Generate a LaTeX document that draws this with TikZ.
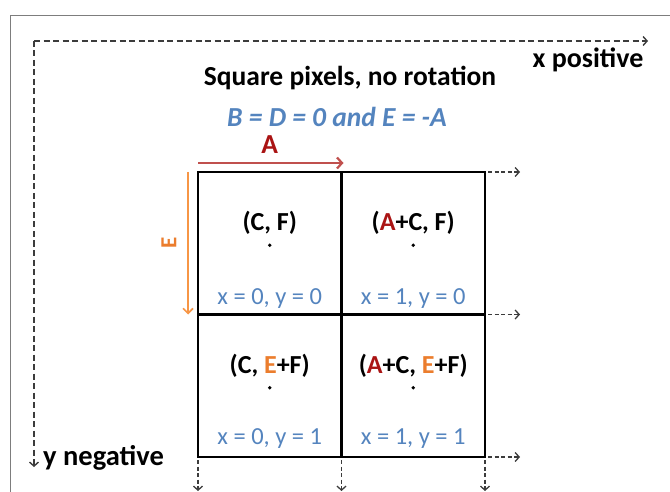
\documentclass[tikz,border=0pt]{standalone}
\usepackage{fontspec}
\setmainfont{Carlito}
\usetikzlibrary{arrows.meta, positioning, calc}
\definecolor{framegray}{RGB}{125,125,125}
\definecolor{axisgray}{RGB}{60,60,60}
\definecolor{idxblue}{RGB}{84,132,190}
\definecolor{stepred}{RGB}{192,80,77}
\definecolor{labred}{RGB}{170,20,20}
\definecolor{steporange}{RGB}{247,150,70}
\definecolor{laborange}{RGB}{235,125,45}
\tikzset{
    pixel/.style={draw, line width=2.6pt, minimum width=143.5pt, minimum height=142.5pt, inner sep=0pt, outer sep=0pt},
    pointlab/.style={font=\fontsize{26}{28}\selectfont\bfseries, inner sep=0pt},
    idxlab/.style={font=\fontsize{24.5}{26}\selectfont, text=idxblue, inner sep=0pt},
    centre/.style={circle, fill=black, inner sep=0pt, minimum size=3.8pt},
    titel/.style={font=\fontsize{27.5}{30}\selectfont\bfseries, inner sep=0pt},
    axis/.style={line width=1.4pt, dash pattern=on 6pt off 3.5pt, draw=axisgray, -{Straight Barb[length=4pt, width=9pt]}},
    verder/.style={line width=1.3pt, dash pattern=on 4pt off 2.5pt, draw=axisgray, -{Straight Barb[length=4pt, width=9pt]}},
    stapA/.style={line width=2.2pt, draw=stepred, -{Straight Barb[length=5pt, width=11pt]}},
    stapE/.style={line width=1.6pt, draw=steporange, -{Straight Barb[length=5pt, width=10pt]}}
}
\begin{document}
\begin{tikzpicture}[x=1pt, y=1pt]
    \useasboundingbox (0,0) rectangle (670,-492);

    % kader
    \draw[framegray, line width=1.5pt] (10.5,-492) -- (10.5,-15.5) -- (671,-15.5);

    % assen
    \coordinate (origin) at (34,-41);
    \coordinate (xeind) at (648,-41);
    \coordinate (yeind) at (34,-467);
    \draw[axis] (origin) -- (xeind);
    \draw[axis] (origin) -- (yeind);
    \node[titel, font=\fontsize{28}{30}\selectfont\bfseries] (xpos) at (588,-60) {x positive};
    \node[titel, font=\fontsize{28.5}{30}\selectfont\bfseries, anchor=west] (yneg) at (43,-458) {y negative};

    % titels
    \node[titel] (title) at (350,-78) {Square pixels, no rotation};
    \node[titel, text=idxblue, font=\fontsize{27.5}{30}\selectfont\bfseries\itshape] (cond) at (337,-117) {B = D = 0 and E = -A};

    % de vier pixels
    \node[pixel] (c00) at (269.75,-243.25) {};
    \node[pixel, right=0pt of c00] (c10) {};
    \node[pixel, below=0pt of c00] (c01) {};
    \node[pixel, below=0pt of c10] (c11) {};

    % inhoud van de pixels
    \node[pointlab] (p00) at ($(c00)+(0,20)$) {(C, F)};
    \node[pointlab] (p10) at ($(c10)+(0,20)$) {(\textcolor{labred}{A}+C, F)};
    \node[pointlab] (p01) at ($(c01)+(0,20)$) {(C, \textcolor{laborange}{E}+F)};
    \node[pointlab] (p11) at ($(c11)+(0,20)$) {(\textcolor{labred}{A}+C, \textcolor{laborange}{E}+F)};
    \foreach \c in {c00, c10, c01, c11} {
        \node[centre] (m\c) at ($(\c)+(0,-2)$) {};
    }
    \node[idxlab] (i00) at ($(c00)+(0,-55)$) {x = 0, y = 0};
    \node[idxlab] (i10) at ($(c10)+(0,-55)$) {x = 1, y = 0};
    \node[idxlab] (i01) at ($(c01)+(0,-53)$) {x = 0, y = 1};
    \node[idxlab] (i11) at ($(c11)+(0,-53)$) {x = 1, y = 1};

    % stappen A en E
    \draw[stapA] ([yshift=9pt]c00.north west) -- ([yshift=9pt, xshift=2pt]c00.north east);
    \node[titel, text=labred] (alab) at ($(c00.north)+(0,27)$) {A};
    \draw[stapE] ([xshift=-10pt]c00.north west) -- ([xshift=-10pt]c00.south west);
    \node[titel, text=laborange, font=\fontsize{23}{25}\selectfont\bfseries, rotate=90] (elab) at ($(c00.west)+(-29,0)$) {E};

    % verder naar rechts en naar beneden
    \coordinate (r0) at ($(c10.north east)+(35,0)$);
    \coordinate (r1) at ($(c10.south east)+(35,0)$);
    \coordinate (r2) at ($(c11.south east)+(35,0)$);
    \draw[verder] ([xshift=3pt]c10.north east) -- (r0);
    \draw[verder] ([xshift=3pt]c10.south east) -- (r1);
    \draw[verder] ([xshift=3pt]c11.south east) -- (r2);
    \coordinate (d0) at ($(c01.south west)+(0,-34)$);
    \coordinate (d1) at ($(c01.south east)+(0,-34)$);
    \coordinate (d2) at ($(c11.south east)+(0,-34)$);
    \draw[verder] ([yshift=-3pt]c01.south west) -- (d0);
    \draw[verder] ([yshift=-3pt]c01.south east) -- (d1);
    \draw[verder] ([yshift=-3pt]c11.south east) -- (d2);
\end{tikzpicture}
\end{document}
